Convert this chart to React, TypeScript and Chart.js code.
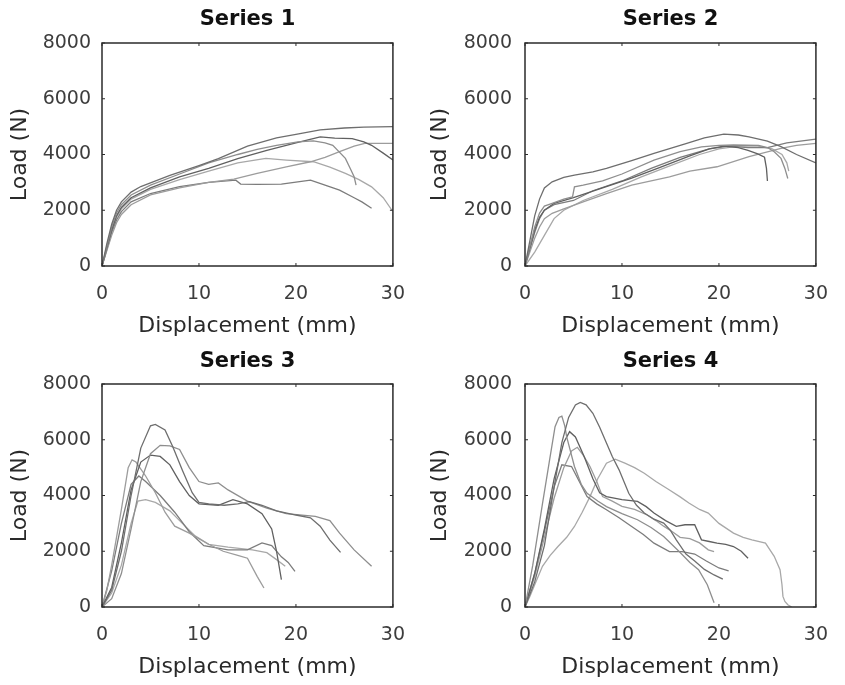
import React, { useEffect, useRef } from "react";
import { Chart, registerables } from "chart.js";

Chart.register(...registerables);

// ---------- tick labels / text ----------
const xTicks = [0, 10, 20, 30];
const yTicks = [0, 2000, 4000, 6000, 8000];
const panelTitles = ["Series 1", "Series 2", "Series 3", "Series 4"];
const xLabel = "Displacement (mm)";
const yLabel = "Load (N)";
const lineGrays = ["#6e6e6e", "#8e8e8e", "#606060", "#9c9c9c", "#7c7c7c", "#a8a8a8"];

// ---------- Series 1 curves [displacement, load] ----------
const s1a = [[0,0],[0.5,800],[1,1500],[1.5,2000],[2,2300],[3,2650],[4,2850],[5,2980],[7,3250],[10,3600],[12,3850],[15,4300],[18,4600],[20,4720],[22.5,4880],[25,4950],[27,4980],[30,5000]];
const s1b = [[0,0],[0.5,700],[1,1400],[1.5,1900],[2,2200],[3,2550],[5,2900],[8,3300],[11,3700],[14,4000],[16,4180],[18,4330],[20.2,4450],[21.8,4490],[23,4420],[23.8,4330],[25.1,3860],[25.6,3500],[26,3200],[26.2,2900]];
const s1c = [[0,0],[0.5,650],[1,1300],[1.5,1800],[2,2100],[3,2450],[5,2800],[8,3200],[11,3500],[14,3850],[17,4150],[20,4420],[22.5,4630],[24,4590],[25.8,4570],[27,4450],[27.8,4330],[29,4050],[30,3800]];
const s1d = [[0,0],[0.5,550],[1,1100],[1.5,1550],[2,1850],[3,2200],[5,2550],[8,2800],[11,3000],[13.6,3120],[16,3320],[19,3560],[21.5,3740],[23,3900],[24.5,4100],[26,4300],[27.1,4400],[30,4400]];
const s1e = [[0,0],[0.5,600],[1,1200],[1.5,1650],[2,1950],[3,2300],[5,2600],[8,2850],[11,3000],[13.8,3080],[14.3,2940],[16,2930],[18.5,2940],[20,3010],[21.5,3080],[23,2900],[24.5,2720],[26,2450],[26.8,2300],[27.8,2070]];
const s1f = [[0,0],[0.5,600],[1,1250],[1.5,1750],[2,2050],[3,2400],[5,2750],[8,3100],[11,3400],[14,3700],[16.9,3860],[19,3800],[21.8,3740],[23.5,3550],[25.1,3320],[26.5,3100],[27.8,2840],[29,2450],[29.9,2000]];

// ---------- Series 2 curves ----------
const s2a = [[0,0],[0.5,900],[1,1800],[1.5,2400],[2,2800],[2.8,3020],[4,3180],[5.1,3260],[7,3380],[8.4,3500],[11,3780],[13.3,4040],[16.6,4390],[18.5,4600],[20.5,4730],[22,4700],[23.1,4630],[25,4480],[26.4,4280],[28,4000],[30,3700]];
const s2b = [[0,0],[0.5,700],[1,1400],[1.5,1900],[2,2150],[2.8,2250],[4,2400],[4.9,2480],[5.1,2840],[6,2900],[8,3050],[10,3300],[13.3,3800],[16,4100],[18.2,4270],[20,4330],[21.5,4340],[24.1,4330],[25,4250],[25.7,4100],[26.4,3860],[26.8,3500],[27.1,3140]];
const s2c = [[0,0],[0.5,650],[1,1300],[1.5,1750],[2,2000],[3,2250],[5,2450],[8,2800],[11,3150],[14,3550],[17,3950],[19,4200],[20.5,4300],[22,4250],[23,4150],[24,4020],[24.7,3900],[24.9,3500],[25,3050]];
const s2d = [[0,0],[0.5,500],[1,1000],[1.5,1400],[2,1700],[2.8,1890],[4,2050],[6,2300],[8.4,2600],[11,2900],[14.9,3200],[17,3400],[19.8,3560],[23.1,3920],[26.4,4220],[28,4330],[30,4400]];
const s2e = [[0,0],[0.5,600],[1,1200],[1.5,1700],[2,2000],[3,2200],[5,2350],[7,2700],[10,3050],[13,3500],[16,3900],[19,4200],[21,4300],[23,4250],[25,4250],[27,4420],[30,4550]];
const s2f = [[0,0],[1,500],[2,1100],[3,1700],[4,2000],[6,2350],[9,2750],[12,3200],[15,3600],[18,4000],[20,4200],[22,4300],[24,4300],[25.5,4200],[26.5,4000],[27,3700],[27.2,3400]];

// ---------- Series 3 curves ----------
const s3a = [[0,0],[1,600],[2,2000],[3,4000],[4,5700],[5,6500],[5.5,6550],[6.5,6350],[7.3,5750],[8.3,4900],[9.3,4100],[10,3750],[11,3700],[12.6,3650],[14,3700],[15.2,3780],[16.5,3650],[18,3450],[20,3300],[21.5,3200],[22.5,2900],[23.5,2400],[24.6,1960]];
const s3b = [[0,0],[1,300],[2,1200],[3,2800],[4,4500],[5,5500],[6,5800],[7,5780],[8,5650],[9,5000],[10,4500],[11,4400],[12,4450],[13,4200],[15,3800],[17,3550],[19,3350],[22,3250],[23.5,3100],[24.5,2650],[26,2050],[27.8,1460]];
const s3c = [[0,0],[1,700],[2,2300],[3,4200],[4,5200],[5,5450],[6,5400],[7,5100],[8,4500],[9,4000],[10,3700],[12,3650],[13.5,3850],[15,3700],[16.5,3350],[17.5,2800],[18,2000],[18.5,980]];
const s3d = [[0,0],[0.5,600],[1,1500],[2,3500],[2.7,5000],[3.1,5280],[3.5,5200],[4.5,4700],[5.5,4100],[6.5,3400],[7.5,2900],[9,2650],[11,2250],[12.5,2000],[14,1850],[15,1750],[16,1100],[16.7,680]];
const s3e = [[0,0],[1,1300],[2,3000],[3,4400],[3.8,4700],[4.5,4500],[6,4000],[7.5,3400],[9,2700],[10.5,2200],[13,2050],[15,2050],[16.5,2300],[17.5,2200],[18.5,1800],[19.2,1600],[19.9,1280]];
const s3f = [[0,0],[1,500],[2,1500],[3,3000],[3.7,3800],[4.5,3850],[5.5,3750],[7,3450],[8,3100],[9.6,2550],[11,2250],[13,2150],[15.5,2050],[17,1950],[18,1700],[18.9,1460]];

// ---------- Series 4 curves ----------
const s4a = [[0,0],[1,900],[2,2200],[3,4300],[3.8,5900],[4.5,6800],[5.2,7250],[5.7,7340],[6.3,7250],[7,6950],[7.7,6450],[8.4,5880],[9,5400],[9.7,4920],[10.7,4080],[11.5,3650],[12.3,3370],[13.3,3150],[14.3,3010],[15,2750],[15.6,2410],[16.6,1900],[17.5,1650],[18.5,1350],[19.5,1150],[20.4,1000]];
const s4b = [[0,0],[0.8,1500],[1.8,3700],[2.5,5200],[3.1,6470],[3.5,6800],[3.8,6850],[4.1,6500],[4.3,6100],[5.1,5040],[5.8,4400],[6.4,4080],[7.5,3800],[8.4,3600],[10,3350],[11.6,3130],[13,2850],[14.3,2530],[15.9,1990],[17,1600],[17.9,1340],[18.8,800],[19.5,150]];
const s4c = [[0,0],[1,1200],[2,2800],[3,4600],[4,5900],[4.6,6290],[5.2,6100],[6.1,5400],[7,4600],[7.7,4100],[8.4,3960],[10,3850],[11.6,3790],[12.5,3600],[13.3,3370],[14.5,3100],[15.6,2890],[16.5,2950],[17.5,2950],[18.2,2410],[19,2350],[19.8,2290],[20.7,2250],[21.5,2170],[22.3,2000],[23,1750]];
const s4d = [[0,0],[1,1100],[2,2500],[3,3900],[4,5000],[4.8,5600],[5.4,5730],[6,5450],[6.7,5040],[7.4,4500],[8,3960],[9,3800],[10,3610],[11.3,3500],[12.6,3300],[13.5,3100],[14.3,2900],[15.2,2700],[16,2500],[17,2450],[18,2300],[18.9,2050],[19.5,1990]];
const s4e = [[0,0],[1,1200],[2,2700],[3,4300],[3.8,5100],[4.8,5040],[5.6,4500],[6.4,3960],[7.4,3700],[8.4,3490],[9.7,3200],[11,2890],[12.2,2600],[13.3,2290],[14.9,1990],[16.2,1990],[17.5,1900],[18.7,1650],[20,1400],[21,1300]];
const s4f = [[0,0],[0.5,380],[1,800],[1.8,1460],[2.6,1850],[3.4,2170],[4.3,2500],[5.1,2890],[5.9,3400],[6.7,3960],[7.5,4600],[8.4,5160],[9.3,5300],[10.3,5160],[11.3,5000],[12.3,4800],[13.5,4500],[14.9,4200],[16,3950],[16.9,3730],[18,3500],[18.9,3370],[20,3000],[21.5,2650],[22.5,2500],[23.4,2410],[24.8,2290],[25.7,1820],[26.3,1340],[26.5,800],[26.6,380],[26.8,200],[27.1,80],[27.5,0]];

const series1 = [s1a, s1b, s1c, s1d, s1e, s1f];
const series2 = [s2a, s2b, s2c, s2d, s2e, s2f];
const series3 = [s3a, s3b, s3c, s3d, s3e, s3f];
const series4 = [s4a, s4b, s4c, s4d, s4e, s4f];
const allSeries = [series1, series2, series3, series4];

// ---------- layout (pixels) ----------
type Geo = {
  left: number; top: number; w: number; h: number;
  yAxisW: number; xAxisH: number; padRight: number;
  titleTop: number; titleBottom: number;
  yTitlePad: number; yTickPad: number; xTitlePad: number;
};
const geos: Geo[] = [
  { left: 0, top: 0, w: 422, h: 342, yAxisW: 102, xAxisH: 76, padRight: 16, titleTop: 7, titleBottom: 10.8, yTitlePad: 7, yTickPad: 11, xTitlePad: 3 },
  { left: 422, top: 0, w: 423, h: 342, yAxisW: 103, xAxisH: 76, padRight: 15, titleTop: 7, titleBottom: 10.8, yTitlePad: 5, yTickPad: 13, xTitlePad: 3 },
  { left: 0, top: 342, w: 422, h: 343, yAxisW: 102, xAxisH: 78, padRight: 16, titleTop: 7, titleBottom: 9.8, yTitlePad: 7, yTickPad: 11, xTitlePad: 5 },
  { left: 422, top: 342, w: 423, h: 343, yAxisW: 103, xAxisH: 78, padRight: 15, titleTop: 7, titleBottom: 9.8, yTitlePad: 5, yTickPad: 13, xTitlePad: 5 },
];

const FONT = "'DejaVu Sans', 'Liberation Sans', Arial, sans-serif";

const framePlugin = {
  id: "matlabFrame",
  afterDatasetsDraw(chart: any) {
    const { ctx, chartArea } = chart;
    const { left, right, top, bottom } = chartArea;
    const xs = chart.scales.x;
    const ys = chart.scales.y;
    ctx.save();
    ctx.strokeStyle = "#2b2b2b";
    ctx.lineWidth = 1.5;
    ctx.strokeRect(left, top, right - left, bottom - top);
    const tl = 3;
    ctx.lineWidth = 1;
    ctx.beginPath();
    xs.ticks.forEach((t: any) => {
      const px = xs.getPixelForValue(t.value);
      ctx.moveTo(px, bottom); ctx.lineTo(px, bottom - tl);
      ctx.moveTo(px, top); ctx.lineTo(px, top + tl);
    });
    ys.ticks.forEach((t: any) => {
      const py = ys.getPixelForValue(t.value);
      ctx.moveTo(left, py); ctx.lineTo(left + tl, py);
      ctx.moveTo(right, py); ctx.lineTo(right - tl, py);
    });
    ctx.stroke();
    ctx.restore();
  },
};

function Panel({ idx }: { idx: number }) {
  const ref = useRef<HTMLCanvasElement | null>(null);
  const g = geos[idx];
  useEffect(() => {
    if (!ref.current) return;
    const curves = allSeries[idx];
    const chart = new Chart(ref.current, {
      type: "line",
      data: {
        datasets: curves.map((c, i) => ({
          data: c.map(([x, y]) => ({ x, y })),
          borderColor: lineGrays[i % lineGrays.length],
          borderWidth: 1.3,
          pointRadius: 0,
          tension: 0,
          fill: false,
        })),
      },
      options: {
        responsive: false,
        animation: false,
        events: [],
        layout: { padding: { left: 0, right: g.padRight, top: 0, bottom: 0 } },
        plugins: {
          legend: { display: false },
          tooltip: { enabled: false },
          title: {
            display: true,
            text: panelTitles[idx],
            fullSize: false,
            color: "#111",
            font: { family: FONT, size: 21, weight: "bold", lineHeight: 1.2 },
            padding: { top: g.titleTop, bottom: g.titleBottom },
          },
        },
        scales: {
          x: {
            type: "linear",
            min: 0,
            max: 30,
            afterBuildTicks: (s: any) => { s.ticks = xTicks.map((v) => ({ value: v })); },
            afterFit: (s: any) => { s.height = g.xAxisH; },
            grid: { display: false, drawTicks: false, tickLength: 0 },
            border: { display: false },
            ticks: {
              color: "#3d3d3d",
              padding: 17,
              maxRotation: 0,
              font: { family: FONT, size: 19, lineHeight: 1.2 },
              callback: (v: any) => String(v),
            },
            title: {
              display: true,
              text: xLabel,
              color: "#2a2a2a",
              font: { family: FONT, size: 22, lineHeight: 1.2 },
              padding: { top: 0, bottom: g.xTitlePad },
            },
          },
          y: {
            type: "linear",
            min: 0,
            max: 8000,
            afterBuildTicks: (s: any) => { s.ticks = yTicks.map((v) => ({ value: v })); },
            afterFit: (s: any) => { s.width = g.yAxisW; },
            grid: { display: false, drawTicks: false, tickLength: 0 },
            border: { display: false },
            ticks: {
              color: "#3d3d3d",
              padding: g.yTickPad,
              font: { family: FONT, size: 19, lineHeight: 1.2 },
              callback: (v: any) => String(v),
            },
            title: {
              display: true,
              text: yLabel,
              color: "#2a2a2a",
              font: { family: FONT, size: 22, lineHeight: 1.2 },
              padding: { top: g.yTitlePad, bottom: 0 },
            },
          },
        },
      } as any,
      plugins: [framePlugin],
    });
    return () => chart.destroy();
  }, [idx]);
  return (
    <canvas
      ref={ref}
      width={g.w}
      height={g.h}
      style={{ position: "absolute", left: g.left, top: g.top, width: g.w, height: g.h, display: "block" }}
    />
  );
}

export default function App() {
  return (
    <div style={{ position: "absolute", left: 0, top: 0, width: 845, height: 685, background: "#ffffff", overflow: "hidden" }}>
      {[0, 1, 2, 3].map((i) => (
        <Panel key={i} idx={i} />
      ))}
    </div>
  );
}
